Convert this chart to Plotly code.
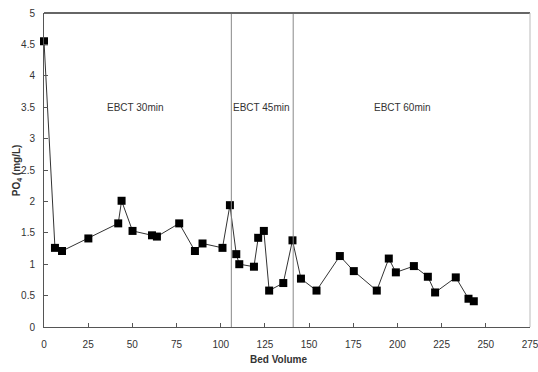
import plotly.graph_objects as go

# Bed volume and phosphate concentration readings
bed_volume = [0, 6.2, 10.2, 25.1, 42.0, 43.9, 50.1, 61.1, 63.9, 76.5, 85.4, 89.7,
              101.0, 105.2, 108.8, 110.5, 118.8, 121.2, 124.4, 127.4, 135.4, 140.6,
              145.4, 154.2, 167.4, 175.3, 188.3, 195.1, 199.1, 209.3, 217.2, 221.3,
              233.0, 240.2, 243.2]
po4 = [4.55, 1.26, 1.21, 1.41, 1.65, 2.01, 1.53, 1.46, 1.44, 1.65, 1.21, 1.33,
       1.26, 1.94, 1.16, 1.00, 0.96, 1.42, 1.53, 0.58, 0.70, 1.38,
       0.77, 0.58, 1.13, 0.89, 0.58, 1.09, 0.87, 0.97, 0.80, 0.55,
       0.79, 0.45, 0.41]

# Boundaries between EBCT phases
phase_breaks = [106, 141]
phase_labels = ["EBCT 30min", "EBCT 45min", "EBCT 60min"]
phase_label_x = [52, 123, 203]
phase_label_y = 3.5

x_ticks = [0, 25, 50, 75, 100, 125, 150, 175, 200, 225, 250, 275]
y_ticks = [0, 0.5, 1, 1.5, 2, 2.5, 3, 3.5, 4, 4.5, 5]

font_family = "Liberation Sans Narrow, Liberation Sans, Arial"
text_color = "#333333"

fig = go.Figure()
fig.add_trace(go.Scatter(
    x=bed_volume, y=po4, mode="lines+markers",
    line=dict(color="#333333", width=1),
    marker=dict(symbol="square", size=8, color="black"),
    showlegend=False, cliponaxis=False,
))

for xb in phase_breaks:
    fig.add_shape(type="line", xref="x", yref="paper", x0=xb, x1=xb, y0=0, y1=1,
                  line=dict(color="#888888", width=1))

for lbl, lx in zip(phase_labels, phase_label_x):
    fig.add_annotation(x=lx, y=phase_label_y, text=lbl, showarrow=False,
                       font=dict(family=font_family, size=10, color=text_color))

# Axis titles
fig.add_annotation(xref="paper", yref="paper", x=-0.055, y=0.5, text="<b>PO<sub>4</sub> (mg/L)</b>",
                   textangle=-90, showarrow=False, xanchor="center", yanchor="middle",
                   font=dict(family=font_family, size=10, color=text_color))
fig.add_annotation(xref="paper", yref="paper", x=0.482, y=-0.08, text="<b>Bed Volume</b>",
                   showarrow=False, xanchor="center", yanchor="top",
                   font=dict(family=font_family, size=10, color=text_color))

# Top and right frame edges
fig.add_shape(type="line", xref="paper", yref="paper", x0=0, x1=1, y0=1, y1=1,
              line=dict(color="#666666", width=2))
fig.add_shape(type="line", xref="paper", yref="paper", x0=1, x1=1, y0=0, y1=1,
              line=dict(color="#bbbbbb", width=1))

fig.update_layout(
    width=538, height=372,
    margin=dict(l=44, r=8, t=13, b=45),
    paper_bgcolor="white", plot_bgcolor="white",
    font=dict(family=font_family, size=10, color=text_color),
    xaxis=dict(range=[0, 275], tickvals=x_ticks, ticks="inside", ticklen=4,
               tickcolor="#555555", showline=True, linecolor="#555555", linewidth=1,
               showgrid=False, zeroline=False, ticklabelstandoff=8,
               ticklabeloverflow="allow", automargin=False),
    yaxis=dict(range=[0, 5], tickvals=y_ticks, ticks="inside", ticklen=4,
               tickcolor="#555555", showline=True, linecolor="#555555", linewidth=1,
               showgrid=False, zeroline=False, ticklabelstandoff=6, automargin=False),
)

fig.write_html("out.html")
